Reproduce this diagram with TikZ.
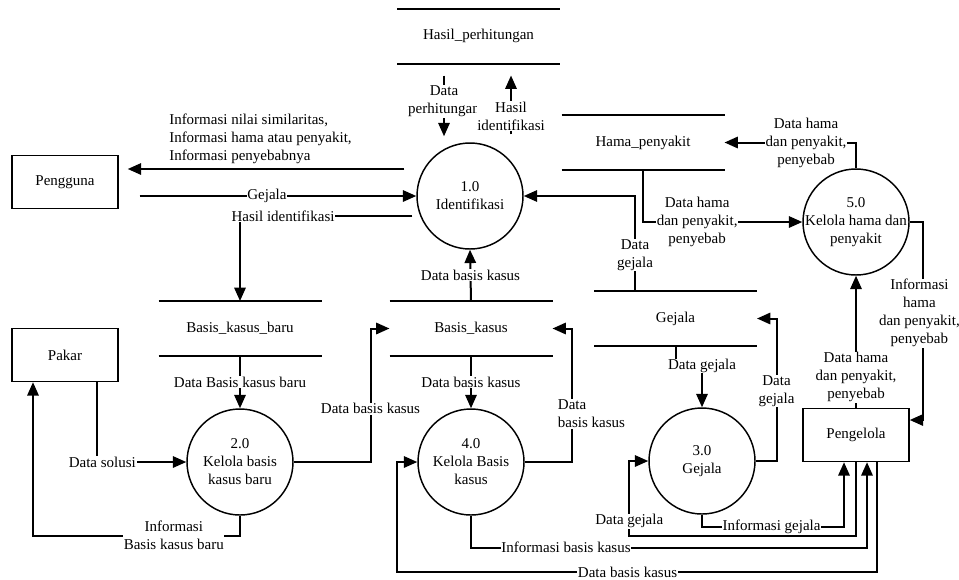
\documentclass[tikz,border=0pt]{standalone}
\usepackage{fontspec}
\setmainfont{Liberation Serif}
\usetikzlibrary{arrows.meta, positioning, calc}

\begin{document}
\begin{tikzpicture}[x=0.75pt, y=-0.75pt, ->, >={Triangle[length=10pt,width=8.5pt]},
  line width=1.5pt, font=\fontsize{11.25}{13.5}\selectfont,
  sq node/.style={rectangle, draw, line width=1.1pt, minimum width=79.5pt, minimum height=39.75pt},
  proc node/.style={circle, draw, line width=1.1pt, minimum size=79.5pt, inner sep=0pt},
  store node/.style={rectangle, minimum width=120.75pt, minimum height=39.75pt},
  lbl/.style={fill=white, inner sep=0.5pt, align=center}]
  \useasboundingbox (0,0) rectangle (959,579);
  % external entities
  \node[sq node] (pengguna) at (65,182) {Pengguna};
  \node[sq node] (pakar) at (65,355) {Pakar};
  \node[sq node] (pengelola) at (856,435) {Pengelola};
  % processes
  \node[proc node, label={[align=center]center:1.0\\Identifikasi}] (p1) at (470,196) {};
  \node[proc node, label={[align=center]center:2.0\\Kelola basis\\kasus baru}] (p2) at (240,462) {};
  \node[proc node, label={[align=center]center:3.0\\Gejala}] (p3) at (702,461) {};
  \node[proc node, label={[align=center]center:4.0\\Kelola Basis\\kasus}] (p4) at (471,462) {};
  \node[proc node, label={[align=center]center:5.0\\Kelola hama dan\\penyakit}] (p5) at (856,222) {};
  % data stores
  \node[store node] (hp) at (478.5,36) {Hasil\_perhitungan};
  \node[store node] (hm) at (643,142.5) {Hama\_penyakit};
  \node[store node] (bkb) at (240,328.5) {Basis\_kasus\_baru};
  \node[store node] (bk) at (471,328.5) {Basis\_kasus};
  \node[store node] (gj) at (675.5,318.5) {Gejala};
  \foreach \s in {hp, hm, bkb, bk, gj}
    \draw[-] (\s.north west) -- (\s.north east) (\s.south west) -- (\s.south east);

  % flows of 1.0
  \draw ($(hp.south)+(-34.5,12)$) -- node[lbl,pos=0.43]{Data\\perhitungan} ($(p1.north)+(-26,-6)$);
  \draw ($(p1.north)+(41,-8)$) -- node[lbl,pos=0.31]{Hasil\\identifikasi} ($(hp.south)+(32.5,12)$);
  \draw ($(p1.west)+(-12,-27)$) -- node[pos=0.52, above, align=left]{Informasi nilai similaritas,\\Informasi hama atau penyakit,\\Informasi penyebabnya} ($(pengguna.east)+(9,-13)$);
  \draw ($(pengguna.east)+(21,14)$) -- node[lbl,pos=0.46]{Gejala} (p1.west);
  \draw ($(p1.west)+(-4,20)$) -| node[lbl,pos=0.375]{Hasil identifikasi} (bkb.north);
  \draw (bk.north) -- node[lbl]{Data basis kasus} (p1.south);
  \draw ($(gj.north)+(-40.5,0)$) |- node[lbl,pos=0.19]{Data\\gejala} (p1.east);

  % flows of 2.0
  \draw ($(pakar.south)+(32,0)$) |- node[lbl,pos=0.53]{Data solusi} (p2.west);
  \draw (bkb.south) -- node[lbl]{Data Basis kasus baru} (p2.north);
  \draw (p2.south) -- ++(0,20) -| node[lbl,pos=0.16]{Informasi\\Basis kasus baru} ($(pakar.south)+(-32,0)$);
  \draw (p2.east) -| node[lbl,pos=0.7]{Data basis kasus} ($(bk.west)+(-19,0)$) -- (bk.west);

  % flows of 4.0
  \draw (bk.south) -- node[lbl]{Data basis kasus} (p4.north);
  \draw (p4.east) -| node[lbl,pos=0.68,xshift=15pt,align=left]{Data\\basis kasus} ($(bk.east)+(19,0)$) -- (bk.east);
  \draw (p4.south) -- ++(0,32) -| node[lbl,pos=0.12]{Informasi basis kasus} ($(pengelola.south)+(11,0)$);
  \draw ($(pengelola.south)+(21,0)$) -- ++(0,110) -| node[lbl,pos=0.26]{Data basis kasus} ($(p4.west)+(-20,0)$) -- (p4.west);

  % flows of 3.0
  \draw (gj.south) -- ++(0,20) -| node[lbl]{Data gejala} (p3.north);
  \draw (p3.east) -| node[lbl,pos=0.745]{Data\\gejala} ($(gj.east)+(19.5,0)$) -- (gj.east);
  \draw (p3.south) -- ++(0,12) -| node[lbl,pos=0.245]{Informasi gejala} ($(pengelola.south)+(-12,0)$);
  \draw (pengelola.south) -- ++(0,74) -| node[lbl,pos=0.6]{Data gejala} ($(p3.west)+(-19,0)$) -- (p3.west);

  % flows of 5.0
  \draw (hm.south) |- node[lbl,pos=0.67]{Data hama\\dan penyakit,\\penyebab} (p5.west);
  \draw (p5.north) |- node[lbl,pos=0.69]{Data hama\\dan penyakit,\\penyebab} (hm.east);
  \draw (p5.east) -| node[lbl,pos=0.73,xshift=-2.5pt]{Informasi\\hama\\dan penyakit,\\penyebab} ($(pengelola.east)+(13,-15)$) -- ($(pengelola.east)+(0,-15)$);
  \draw (pengelola.north) -- node[lbl,pos=0.23]{Data hama\\dan penyakit,\\penyebab} (p5.south);
\end{tikzpicture}
\end{document}
